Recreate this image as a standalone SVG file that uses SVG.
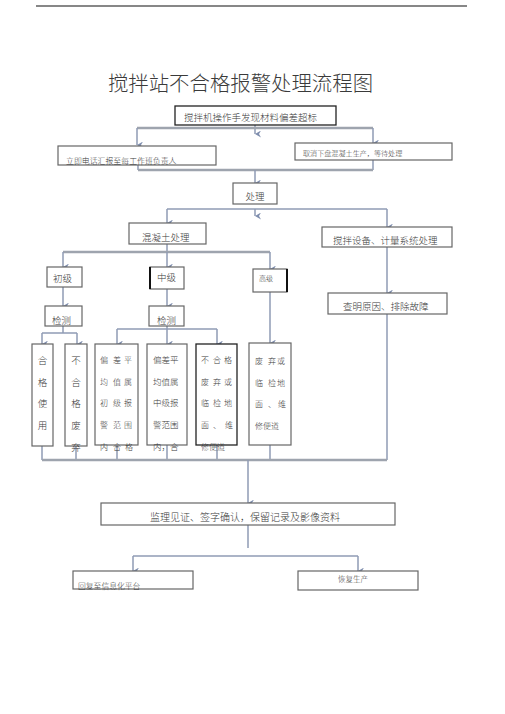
<svg xmlns="http://www.w3.org/2000/svg" width="505" height="714" viewBox="0 0 505 714">
<style>
text{font-family:"Noto Sans CJK SC","Liberation Sans",sans-serif;fill:#3a3a3a;font-weight:300;}
.t{font-size:9.5px;}
.box{fill:#fff;stroke:#666;stroke-width:1.2;}
.bk{fill:#fff;stroke:#222;stroke-width:1.3;}
.c{fill:none;stroke:#8f9bb4;stroke-width:1.5;}
.bar{fill:none;stroke:#9ea4ae;stroke-width:2.5;}
</style>
<defs>
<marker id="ah" markerUnits="userSpaceOnUse" markerWidth="7" markerHeight="6" refX="3.5" refY="6" orient="auto-start-reverse" viewBox="0 0 7 6">
<path d="M0,0 L3.5,6 L7,0 L3.5,2 Z" fill="#7f8eae"/>
</marker>
</defs>
<line x1="36" y1="6" x2="467" y2="6" stroke="#111" stroke-width="1.2"/>
<text x="240.5" y="91" text-anchor="middle" style="font-size:20.4px;font-weight:300">搅拌站不合格报警处理流程图</text>

<g id="connectors">
<line class="c" x1="255" y1="125" x2="255" y2="134" marker-end="url(#ah)"/>
<line class="bar" x1="137" y1="128" x2="373" y2="128"/>
<line class="c" x1="137" y1="128" x2="137" y2="145" marker-end="url(#ah)"/>
<line class="c" x1="373" y1="128" x2="373" y2="143" marker-end="url(#ah)"/>
<line class="c" x1="138" y1="165" x2="138" y2="170"/>
<line class="c" x1="373" y1="160" x2="373" y2="170"/>
<line class="bar" x1="138" y1="170" x2="373" y2="170"/>
<line class="c" x1="255" y1="170" x2="255" y2="183" marker-end="url(#ah)"/>
<line class="c" x1="167" y1="209" x2="387" y2="209"/>
<line class="c" x1="255" y1="209" x2="255" y2="216" marker-end="url(#ah)"/>
<line class="c" x1="167" y1="209" x2="167" y2="223" marker-end="url(#ah)"/>
<line class="c" x1="387" y1="209" x2="387" y2="227" marker-end="url(#ah)"/>
<line class="c" x1="167" y1="244" x2="167" y2="252"/>
<line class="bar" x1="63" y1="252" x2="270" y2="252"/>
<line class="c" x1="63" y1="252" x2="63" y2="267" marker-end="url(#ah)"/>
<line class="c" x1="167" y1="252" x2="167" y2="267" marker-end="url(#ah)"/>
<line class="c" x1="270" y1="252" x2="270" y2="269" marker-end="url(#ah)"/>
<line class="c" x1="387" y1="247" x2="387" y2="293" marker-end="url(#ah)"/>
<line class="c" x1="63" y1="287" x2="63" y2="306" marker-end="url(#ah)"/>
<line class="c" x1="167" y1="289" x2="167" y2="306" marker-end="url(#ah)"/>
<line class="c" x1="63" y1="326" x2="63" y2="333"/>
<line class="c" x1="42" y1="333" x2="77" y2="333"/>
<line class="c" x1="42" y1="333" x2="42" y2="344" marker-end="url(#ah)"/>
<line class="c" x1="77" y1="333" x2="77" y2="344" marker-end="url(#ah)"/>
<line class="c" x1="167" y1="326" x2="167" y2="329"/>
<line class="c" x1="117" y1="329" x2="217" y2="329"/>
<line class="c" x1="117" y1="329" x2="117" y2="344" marker-end="url(#ah)"/>
<line class="c" x1="167" y1="329" x2="167" y2="344" marker-end="url(#ah)"/>
<line class="c" x1="217" y1="329" x2="217" y2="344" marker-end="url(#ah)"/>
<line class="c" x1="270" y1="292" x2="270" y2="343" marker-end="url(#ah)"/>
<line class="c" x1="42" y1="446" x2="42" y2="460"/>
<line class="c" x1="76" y1="446" x2="76" y2="460"/>
<line class="c" x1="117" y1="445" x2="117" y2="460"/>
<line class="c" x1="167" y1="445" x2="167" y2="460"/>
<line class="c" x1="217" y1="445" x2="217" y2="460"/>
<line class="c" x1="270" y1="445" x2="270" y2="460"/>
<line class="c" x1="387" y1="314" x2="387" y2="460"/>
<line class="bar" x1="42" y1="460" x2="387" y2="460"/>
<line class="c" x1="248" y1="460" x2="248" y2="503" marker-end="url(#ah)"/>
<line class="c" x1="248" y1="525" x2="248" y2="548" stroke="#999"/>
<line class="c" x1="133" y1="556" x2="358" y2="556"/>
<line class="c" x1="133" y1="556" x2="133" y2="571" marker-end="url(#ah)"/>
<line class="c" x1="358" y1="556" x2="358" y2="571" marker-end="url(#ah)"/>
</g>

<g id="n1"><rect class="bk" x="175" y="106" width="161" height="19"/><text class="t" x="184" y="121">搅拌机操作手发现材料偏差超标</text></g>
<g id="n2"><rect class="box" x="58" y="146" width="158" height="19"/><text x="66" y="164" style="font-size:7.9px">立即电话汇报至每工作班负责人</text></g>
<g id="n3"><rect class="box" x="295" y="143" width="157" height="17"/><text x="303" y="156" style="font-size:7.1px">取消下盘混凝土生产，等待处理</text></g>
<g id="n4"><rect class="box" x="233" y="183" width="44" height="21"/><text class="t" x="255" y="200" text-anchor="middle">处理</text></g>
<g id="n5"><rect class="box" x="129" y="223" width="77" height="21"/><text class="t" x="142" y="241">混凝土处理</text></g>
<g id="n6"><rect class="box" x="322" y="227" width="130" height="20"/><text class="t" x="333" y="244">搅拌设备、计量系统处理</text></g>
<g id="n7"><rect class="box" x="47" y="267" width="35" height="20"/><text class="t" x="53" y="282">初级</text></g>
<g id="n8"><rect class="box" x="150" y="267" width="34" height="22"/><line x1="150" y1="267" x2="150" y2="289" stroke="#111" stroke-width="2"/><text class="t" x="157" y="281">中级</text></g>
<g id="n9"><rect class="box" x="253" y="269" width="34" height="23"/><line x1="287" y1="269" x2="287" y2="292" stroke="#111" stroke-width="2"/><text x="259" y="281" style="font-size:7px">高级</text></g>
<g id="n10"><rect class="box" x="328" y="293" width="119" height="21"/><text class="t" x="343" y="310">查明原因、排除故障</text></g>
<g id="n11"><rect class="box" x="45" y="306" width="37" height="20"/><text class="t" x="52" y="324">检测</text></g>
<g id="n12"><rect class="box" x="149" y="306" width="35" height="20"/><text class="t" x="157" y="324">检测</text></g>
<g id="n13"><rect class="box" x="32" y="344" width="21" height="102"/>
<text class="t" x="42.5" text-anchor="middle"><tspan x="42.5" y="364">合</tspan><tspan x="42.5" y="386">格</tspan><tspan x="42.5" y="407">使</tspan><tspan x="42.5" y="429">用</tspan></text></g>
<g id="n14"><rect class="box" x="65" y="344" width="22" height="102"/>
<text class="t" x="76" text-anchor="middle"><tspan x="76" y="364">不</tspan><tspan x="76" y="386">合</tspan><tspan x="76" y="407">格</tspan><tspan x="76" y="429">废</tspan><tspan x="76" y="451">弃</tspan></text></g>
<g id="n15"><rect class="box" x="95" y="344" width="43" height="101"/>
<text style="font-size:8px" text-anchor="middle">
<tspan x="104" y="363">偏</tspan><tspan x="117" y="363">差</tspan><tspan x="129" y="363">平</tspan>
<tspan x="104" y="385">均</tspan><tspan x="117" y="385">值</tspan><tspan x="129" y="385">属</tspan>
<tspan x="104" y="406">初</tspan><tspan x="117" y="406">级</tspan><tspan x="129" y="406">报</tspan>
<tspan x="104" y="428">警</tspan><tspan x="117" y="428">范</tspan><tspan x="129" y="428">围</tspan>
<tspan x="104" y="450">内</tspan><tspan x="117" y="450">合</tspan><tspan x="129" y="450">格</tspan>
</text></g>
<g id="n16"><rect class="box" x="147" y="344" width="40" height="101"/>
<text style="font-size:8.5px"><tspan x="153" y="363">偏差平</tspan><tspan x="153" y="385">均值属</tspan><tspan x="153" y="406">中级报</tspan><tspan x="153" y="428">警范围</tspan><tspan x="153" y="450">内，合</tspan></text></g>
<g id="n17"><rect class="bk" x="196" y="344" width="41" height="101"/>
<text style="font-size:8px" text-anchor="middle">
<tspan x="205" y="363">不</tspan><tspan x="217" y="363">合</tspan><tspan x="229" y="363">格</tspan>
<tspan x="205" y="385">废</tspan><tspan x="217" y="385">弃</tspan><tspan x="229" y="385">或</tspan>
<tspan x="205" y="406">临</tspan><tspan x="217" y="406">检</tspan><tspan x="229" y="406">地</tspan>
<tspan x="205" y="428">面</tspan><tspan x="217" y="428">、</tspan><tspan x="229" y="428">维</tspan>
</text>
<text x="201" y="450" style="font-size:8px">修便道</text></g>
<g id="n18"><rect class="box" x="249" y="343" width="42" height="102"/>
<text style="font-size:8px" text-anchor="middle">
<tspan x="259" y="364">废</tspan><tspan x="272" y="364">弃</tspan><tspan x="282" y="364">或</tspan>
<tspan x="259" y="386">临</tspan><tspan x="272" y="386">检</tspan><tspan x="282" y="386">地</tspan>
<tspan x="259" y="407">面</tspan><tspan x="272" y="407">、</tspan><tspan x="282" y="407">维</tspan>
</text>
<text x="255" y="429" style="font-size:8px">修便道</text></g>
<g id="n19"><rect class="box" x="101" y="503" width="294" height="22"/><text x="150" y="521" style="font-size:10px">监理见证、签字确认，保留记录及影像资料</text></g>
<g id="n20"><rect class="box" x="73" y="571" width="120" height="18"/><text x="78" y="589" style="font-size:7.8px">回复至信息化平台</text></g>
<g id="n21"><rect class="box" x="298" y="571" width="120" height="19"/><text x="338" y="582" style="font-size:7.5px">恢复生产</text></g>
</svg>
